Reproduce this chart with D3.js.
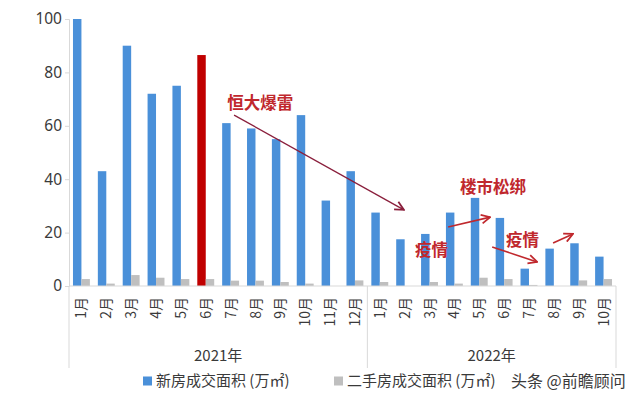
<!DOCTYPE html>
<html>
<head>
<meta charset="utf-8">
<script src="https://cdn.jsdelivr.net/npm/d3@7"></script>
<style>
  html, body { margin: 0; padding: 0; background: #fff; }
  svg { display: block; font-family: "Noto Sans CJK SC", "Noto Sans", sans-serif; }
</style>
</head>
<body>
<div id="chart"></div>
<script>
// months along the axis, grouped by year
const months = ['1月', '2月', '3月', '4月', '5月', '6月', '7月', '8月', '9月', '10月', '11月', '12月',
  '1月', '2月', '3月', '4月', '5月', '6月', '7月', '8月', '9月', '10月'];
const years = ['2021年', '2022年'];
const monthsPerYear = [12, 10];

// 新房 / 二手房 成交面积 (万㎡)
const newHouse = [100, 43, 90, 72, 75, 86.5, 61, 59, 55, 64, 32, 43,
  27.5, 17.5, 19.5, 27.5, 33, 25.5, 6.5, 14, 16, 11];
const secondHand = [2.6, 0.9, 4.1, 3.1, 2.6, 2.6, 2.0, 2.0, 1.5, 0.9, 0, 2.1,
  1.5, 0, 1.5, 0.9, 3.1, 2.6, 0.4, 0, 2.1, 2.6];
const highlightMonth = 5; // 2021年6月

const seriesNames = ['新房成交面积 (万㎡)', '二手房成交面积 (万㎡)'];
const yTicks = [0, 20, 40, 60, 80, 100];

// notes: x in month-index units, y in data units
const notes = [
  { text: '恒大爆雷', x: 6.36, y: 68.5 },
  { text: '楼市松绑', x: 15.73, y: 37.1 },
  { text: '疫情', x: 13.92, y: 13.5 },
  { text: '疫情', x: 17.58, y: 17.2 },
];
const arrows = [
  { x1: 6.64, y1: 64.0, x2: 13.47, y2: 28.5, dark: true },
  { x1: 15.25, y1: 22.1, x2: 16.94, y2: 25.8 },
  { x1: 17.02, y1: 14.6, x2: 18.83, y2: 9.0 },
  { x1: 19.47, y1: 16.1, x2: 20.27, y2: 19.5 },
];

const width = 640;
const height = 398;
const plot = { left: 69, right: 616, top: 19, bottom: 286 };

const colors = { blue: '#4a90d9', gray: '#bfbfbf', red: '#c00000', text: '#3a3a3a', line: '#d9d9d9' };

const svg = d3.select('#chart').append('svg')
  .attr('width', width)
  .attr('height', height);

const yScale = d3.scaleLinear().domain([0, 100]).range([plot.bottom, plot.top]);

const pad = 0.32;
const x0 = d3.scaleBand()
  .domain(d3.range(months.length))
  .range([plot.left, plot.right])
  .paddingInner(pad)
  .paddingOuter(pad / 2);
const x1 = d3.scaleBand().domain(['new', 'second']).range([0, x0.bandwidth()]);
const idx = d3.scaleLinear().domain([0, months.length]).range([plot.left, plot.right]);

// y axis
const yAxis = svg.append('g')
  .attr('transform', `translate(${plot.left},0)`)
  .call(d3.axisLeft(yScale).tickValues(yTicks).tickSize(4).tickPadding(3));
yAxis.select('.domain').attr('stroke', colors.line);
yAxis.selectAll('.tick line').attr('stroke', colors.line);
yAxis.selectAll('.tick text')
  .attr('fill', colors.text)
  .style('font-size', '15.5px')
  .style('font-family', '"Noto Sans", sans-serif');

// bars
const bars = svg.append('g');
bars.selectAll('rect.new')
  .data(newHouse)
  .join('rect')
  .attr('class', 'new')
  .attr('x', (d, i) => x0(i) + x1('new'))
  .attr('y', (d) => yScale(d))
  .attr('width', x1.bandwidth())
  .attr('height', (d) => yScale(0) - yScale(d))
  .attr('fill', (d, i) => (i === highlightMonth ? colors.red : colors.blue));

bars.selectAll('rect.second')
  .data(secondHand)
  .join('rect')
  .attr('class', 'second')
  .attr('x', (d, i) => x0(i) + x1('second'))
  .attr('y', (d) => yScale(d))
  .attr('width', x1.bandwidth())
  .attr('height', (d) => yScale(0) - yScale(d))
  .attr('fill', colors.gray);

// x axis: baseline, month labels, year groups
const xAxis = svg.append('g');
xAxis.append('line')
  .attr('x1', plot.left).attr('x2', plot.right)
  .attr('y1', yScale(0)).attr('y2', yScale(0))
  .attr('stroke', colors.line);

xAxis.selectAll('text.month')
  .data(months)
  .join('text')
  .attr('class', 'month')
  .attr('transform', (d, i) => `translate(${x0(i) + x0.bandwidth() / 2},${plot.bottom + 11}) rotate(-90)`)
  .attr('text-anchor', 'end')
  .attr('dy', '0.36em')
  .attr('fill', colors.text)
  .style('font-size', '14px')
  .text((d) => d);

const bounds = [0, ...d3.cumsum(monthsPerYear)];
xAxis.selectAll('line.sep')
  .data(bounds)
  .join('line')
  .attr('class', 'sep')
  .attr('x1', (d) => idx(d)).attr('x2', (d) => idx(d))
  .attr('y1', plot.bottom).attr('y2', 368)
  .attr('stroke', colors.line);

xAxis.selectAll('text.year')
  .data(years)
  .join('text')
  .attr('class', 'year')
  .attr('x', (d, i) => (idx(bounds[i]) + idx(bounds[i + 1])) / 2)
  .attr('y', 361)
  .attr('text-anchor', 'middle')
  .attr('fill', colors.text)
  .style('font-size', '15px')
  .text((d) => d);

// annotations
const defs = svg.append('defs');
[['arrow-dark', '#8a1f3c'], ['arrow-red', '#c0282d']].forEach(([id, c]) => {
  defs.append('marker')
    .attr('id', id)
    .attr('viewBox', '0 0 10 10')
    .attr('refX', 9).attr('refY', 5)
    .attr('markerWidth', 11).attr('markerHeight', 11)
    .attr('markerUnits', 'userSpaceOnUse')
    .attr('orient', 'auto')
    .append('path')
    .attr('d', 'M1,1 L9,5 L1,9')
    .attr('fill', 'none')
    .attr('stroke', c)
    .attr('stroke-width', 1.6);
});

svg.append('g').selectAll('line')
  .data(arrows)
  .join('line')
  .attr('x1', (d) => idx(d.x1)).attr('y1', (d) => yScale(d.y1))
  .attr('x2', (d) => idx(d.x2)).attr('y2', (d) => yScale(d.y2))
  .attr('stroke', (d) => (d.dark ? '#8a1f3c' : '#c0282d'))
  .attr('stroke-width', (d) => (d.dark ? 1.3 : 1.6))
  .attr('marker-end', (d) => (d.dark ? 'url(#arrow-dark)' : 'url(#arrow-red)'));

svg.append('g').selectAll('text')
  .data(notes)
  .join('text')
  .attr('x', (d) => idx(d.x))
  .attr('y', (d) => yScale(d.y))
  .attr('dy', '0.36em')
  .attr('fill', '#c0282d')
  .style('font-size', '16.5px')
  .style('font-weight', 'bold')
  .text((d) => d.text);

// legend
const legend = svg.append('g').attr('transform', 'translate(0,381)');
const legendItems = [
  { name: seriesNames[0], color: colors.blue, x: 143 },
  { name: seriesNames[1], color: colors.gray, x: 334 },
];
const li = legend.selectAll('g').data(legendItems).join('g')
  .attr('transform', (d) => `translate(${d.x},0)`);
li.append('rect')
  .attr('x', 0).attr('y', -4.5)
  .attr('width', 9).attr('height', 9)
  .attr('fill', (d) => d.color);
li.append('text')
  .attr('x', 13)
  .attr('dy', '0.36em')
  .attr('fill', colors.text)
  .style('font-size', '15px')
  .text((d) => d.name);

// watermark
svg.append('text')
  .attr('x', 511).attr('y', 381)
  .attr('dy', '0.36em')
  .attr('fill', '#3a3a3a')
  .style('font-size', '16px')
  .text('头条 @前瞻顾问');
</script>
</body>
</html>
